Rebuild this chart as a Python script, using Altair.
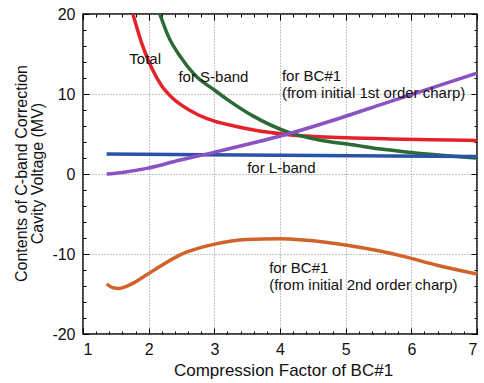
import altair as alt
import pandas as pd

FONT = "Liberation Sans"

# ---- data ----
series_names = ["Total", "S-band", "L-band", "BC1 1st", "BC1 2nd"]
series_colors = ["#e4222a", "#2b6a34", "#2a52a8", "#8a52c2", "#d0622a"]

total_x = [1.76, 1.9, 2.05, 2.2, 2.35, 2.5, 2.75, 3.0, 3.3, 3.6, 4.1, 4.6, 5.1, 5.6, 6.1, 6.6, 7.0]
total_y = [20.0, 16.2, 13.2, 11.0, 9.6, 8.6, 7.4, 6.6, 6.0, 5.5, 4.95, 4.65, 4.5, 4.4, 4.32, 4.25, 4.2]

sband_x = [2.17, 2.3, 2.48, 2.7, 3.0, 3.2, 3.6, 4.1, 4.6, 5.1, 5.6, 6.1, 6.6, 7.0]
sband_y = [20.0, 17.2, 14.7, 12.4, 10.5, 9.3, 7.2, 5.3, 4.25, 3.65, 3.05, 2.6, 2.25, 2.0]

lband_x = [1.36, 4.0, 7.0]
lband_y = [2.5, 2.35, 2.2]

bc1st_x = [1.36, 1.6, 1.97, 2.48, 2.99, 3.6, 4.16, 4.92, 5.58, 6.44, 7.0]
bc1st_y = [0.0, 0.2, 0.7, 1.75, 2.7, 3.9, 5.1, 7.0, 8.8, 11.1, 12.6]

bc2nd_x = [1.36, 1.45, 1.55, 1.75, 1.97, 2.2, 2.48, 2.75, 2.99, 3.5, 4.0, 4.36, 5.02, 5.5, 5.88, 6.39, 7.0]
bc2nd_y = [-13.75, -14.2, -14.3, -13.7, -12.6, -11.4, -10.1, -9.3, -8.8, -8.2, -8.1, -8.25, -8.9, -9.6, -10.3, -11.4, -12.5]

x_major = [1, 2, 3, 4, 5, 6, 7]
x_minor = [round(1 + 0.2 * i, 1) for i in range(31) if i % 5 != 0]
y_major = [-20, -10, 0, 10, 20]
y_minor = [v for v in range(-20, 21, 2) if v % 10 != 0]

ann_text = ["Total", "for S-band", "for BC#1", "(from initial 1st order charp)",
            "for L-band", "for BC#1", "(from initial 2nd order charp)"]
ann_x = [1.706, 2.453, 4.029, 4.029, 3.50, 3.835, 3.835]
ann_y = [13.75, 11.54, 11.6, 9.5, 0.125, -12.4, -14.44]

rows = []
for name, xs, ys in zip(series_names,
                        [total_x, sband_x, lband_x, bc1st_x, bc2nd_x],
                        [total_y, sband_y, lband_y, bc1st_y, bc2nd_y]):
    for i, (xv, yv) in enumerate(zip(xs, ys)):
        rows.append({"series": name, "x": xv, "y": yv, "order": i})
df = pd.DataFrame(rows)
ann = pd.DataFrame({"text": ann_text, "x": ann_x, "y": ann_y})

xscale = alt.Scale(domain=[1, 7], nice=False, zero=False)
yscale = alt.Scale(domain=[-20, 20], nice=False, zero=False)

main_x_axis = alt.Axis(
    title="Compression Factor of BC#1", values=x_major, labelExpr="toString(datum.value)",
    grid=True, gridDash=[1, 2], gridColor="#8a8a8a", gridWidth=1,
    ticks=False, domain=False, labelFont=FONT, labelFontSize=16, labelColor="#111",
    labelPadding=7, titleFont=FONT, titleFontSize=17, titleFontWeight="normal",
    titleColor="#111", titleY=41, titleBaseline="alphabetic", titleX=200,
)
main_y_axis = alt.Axis(
    title=["Contents of C-band Correction", "Cavity Voltage (MV)"], values=y_major,
    labelExpr="toString(datum.value)",
    grid=True, gridDash=[1, 2], gridColor="#8a8a8a", gridWidth=1,
    ticks=False, domain=False, labelFont=FONT, labelFontSize=16, labelColor="#111",
    labelPadding=8, titleFont=FONT, titleFontSize=16, titleFontWeight="normal",
    titleColor="#111", titleX=-62, titleY=159, titleAngle=-90, titleBaseline="middle",
    titleAlign="center", titleLineHeight=16,
)

lines = alt.Chart(df).mark_line(strokeWidth=3.5, interpolate="monotone", clip=True).encode(
    x=alt.X("x:Q", scale=xscale, axis=main_x_axis),
    y=alt.Y("y:Q", scale=yscale, axis=main_y_axis),
    color=alt.Color("series:N", scale=alt.Scale(domain=series_names, range=series_colors), legend=None),
    order="order:Q",
)


def tick_layer(xorient, yorient, xvals, yvals, size):
    xa = alt.Axis(orient=xorient, values=xvals, tickSize=size, offset=-size, labels=False,
                  domain=False, grid=False, title=None, tickColor="black", tickWidth=1)
    ya = alt.Axis(orient=yorient, values=yvals, tickSize=size, offset=-size, labels=False,
                  domain=False, grid=False, title=None, tickColor="black", tickWidth=1)
    return alt.Chart(df).mark_point(opacity=0).encode(
        x=alt.X("x:Q", scale=xscale, axis=xa),
        y=alt.Y("y:Q", scale=yscale, axis=ya),
    )


texts = alt.Chart(ann).mark_text(font=FONT, fontSize=15, align="left", baseline="alphabetic",
                                 color="#111").encode(
    x=alt.X("x:Q", scale=xscale, axis=None),
    y=alt.Y("y:Q", scale=yscale, axis=None),
    text="text:N",
)

chart = alt.layer(
    lines,
    tick_layer("bottom", "left", x_major, y_major, 6),
    tick_layer("bottom", "left", x_minor, y_minor, 3),
    tick_layer("top", "right", x_major, y_major, 6),
    tick_layer("top", "right", x_minor, y_minor, 3),
    texts,
).resolve_axis(x="independent", y="independent").properties(
    width=394, height=320,
    autosize=alt.AutoSizeParams(type="none"),
    padding={"left": 83, "top": 14, "right": 7, "bottom": 49},
    background="white",
).configure_view(stroke="black", strokeWidth=1.5)

chart.save("out.html", embed_options={"renderer": "svg", "actions": False})
